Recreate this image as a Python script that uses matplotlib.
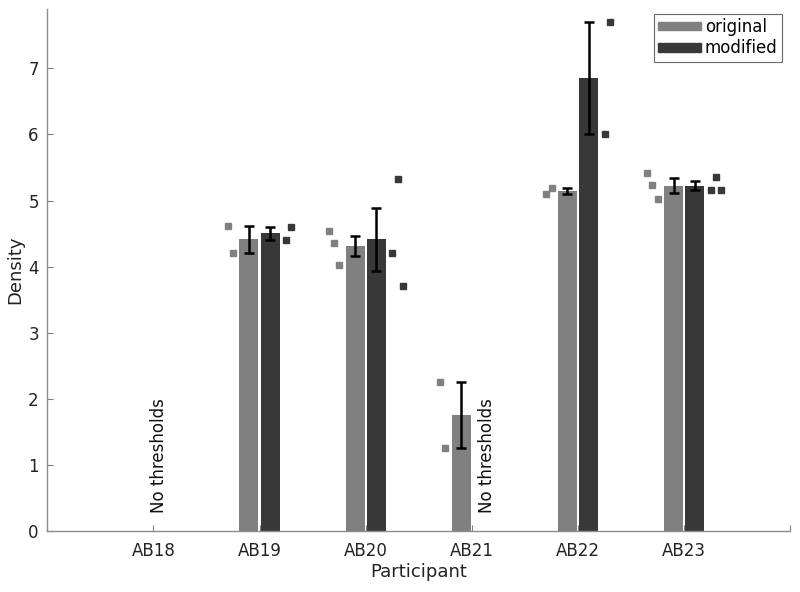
import numpy as np
import matplotlib
matplotlib.use("Agg")
import matplotlib.pyplot as plt
from matplotlib.patches import Patch

# Teilnehmer und Einzelwerte
participants = ["AB18", "AB19", "AB20", "AB21", "AB22", "AB23"]
original = [[], [4.62, 4.21], [4.54, 4.36, 4.03], [2.25, 1.25], [5.10, 5.19], [5.41, 5.24, 5.03]]
modified = [[], [4.41, 4.60], [4.21, 5.32, 3.71], [], [6.00, 7.70], [5.16, 5.36, 5.16]]
no_threshold = ["AB18", "AB21"]

c_orig = "#808080"
c_mod = "#383838"

plt.rcParams["font.family"] = ["DejaVu Sans"]

fig = plt.figure(figsize=(8, 5.92), dpi=100)
ax = fig.add_axes([0.059, 0.103, 0.929, 0.882])

w = 0.18
off = 0.1

for i, name in enumerate(participants):
    xc = i + 1
    for vals, sign, col in [(original[i], -1, c_orig), (modified[i], 1, c_mod)]:
        if len(vals) == 0:
            continue
        v = np.array(vals)
        m = v.mean()
        sem = v.std(ddof=1) / np.sqrt(len(v))
        ax.bar(xc + sign * off, m, width=w, color=col, zorder=2)
        ax.errorbar(xc + sign * off, m, yerr=sem, color="black", lw=1.8,
                    capsize=3.8, capthick=1.8, zorder=3)
        n = len(v)
        if sign < 0:
            xs = [xc - (0.25 + 0.05 * (n - 1 - k)) for k in range(n)]
        else:
            xs = [xc + (0.25 + 0.05 * k) for k in range(n)]
        ax.plot(xs, v, "s", color=col, markersize=5, zorder=3)
    if name in no_threshold:
        tx = xc + (0.05 if i == 0 else 0.14)
        ax.text(tx, 0.27, "No thresholds", rotation=90, ha="center", va="bottom",
                fontsize=12, color="#111111")

ax.set_xlim(0, 7)
ax.set_ylim(0, 7.9)
ax.set_xticks(range(0, 8))
ax.set_xticklabels([""] + participants + [""])
ax.set_yticks(range(0, 8))
ax.tick_params(direction="in", length=4, labelsize=12, color="#808080", labelcolor="#222222")
ax.tick_params(axis="y", pad=6)
ax.tick_params(axis="x", pad=8)
for s in ["top", "right"]:
    ax.spines[s].set_visible(False)
for s in ["left", "bottom"]:
    ax.spines[s].set_color("#8c8c8c")
    ax.spines[s].set_linewidth(1.0)

ax.set_xlabel("Participant", fontsize=13, labelpad=2, color="#222222")
ax.set_ylabel("Density", fontsize=13, labelpad=3, color="#222222")

handles = [Patch(color=c_orig, label="original"), Patch(color=c_mod, label="modified")]
leg = ax.legend(handles=handles, loc="upper right", bbox_to_anchor=(0.995, 1.0),
                fontsize=12, frameon=True, fancybox=False, edgecolor="#444444",
                handlelength=2.6, handleheight=0.4, handletextpad=0.2,
                borderpad=0.25, labelspacing=0.2, borderaxespad=0.3)
leg.get_frame().set_linewidth(0.8)

fig.savefig("out.png", dpi=100)
